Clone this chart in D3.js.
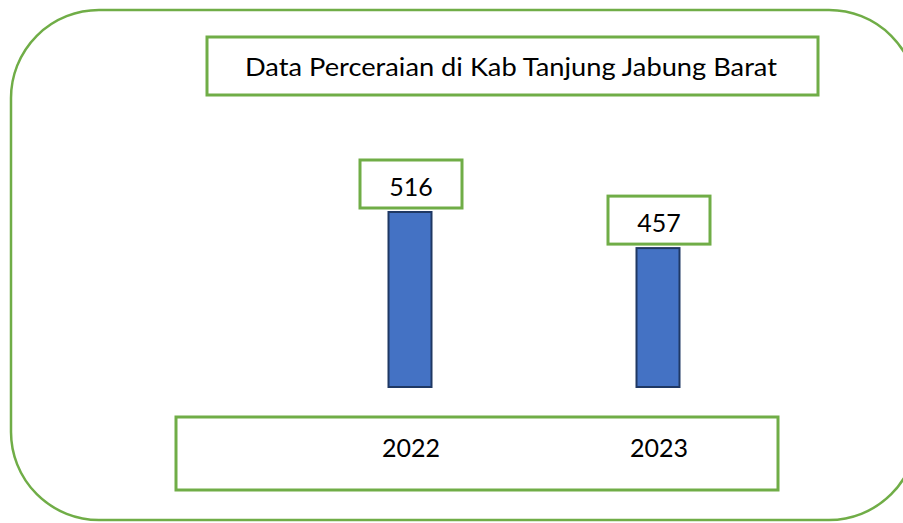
<!DOCTYPE html>
<html>
<head>
<meta charset="utf-8">
<script src="https://cdn.jsdelivr.net/npm/d3@7"></script>
<style>
  body { margin: 0; background: #fff; }
  svg { display: block; font-family: Lato, "Open Sans", sans-serif; }
  .frame { fill: none; stroke: #70AD47; }
  .bar { fill: #4472C4; stroke: #1F3864; stroke-width: 2; }
  .box { fill: #fff; stroke: #70AD47; stroke-width: 3; }
</style>
</head>
<body>
<script>
// Data
var title = "Data Perceraian di Kab Tanjung Jabung Barat";
var years = ["2022", "2023"];
var totals = [516, 457];

var dataset = years.map(function(y, i) { return { year: y, total: totals[i] }; });

var w = 903, h = 523;

var svg = d3.select("body").append("svg")
    .attr("width", w)
    .attr("height", h);

// outer rounded frame (runs off the right/bottom edge)
svg.append("rect")
  .attr("class", "frame")
  .attr("x", 11).attr("y", 10)
  .attr("width", 906).attr("height", 510)
  .attr("rx", 88).attr("ry", 88)
  .attr("stroke-width", 2.5);

// Scales
var xScale = d3.scalePoint()
    .domain(years)
    .range([410, 658]);

var yScale = d3.scaleLinear()
    .domain([230, d3.max(totals)])
    .range([387, 212]);

var barW = 43;

// title box
svg.append("rect").attr("class", "box")
  .attr("x", 207).attr("y", 37).attr("width", 611).attr("height", 58);
svg.append("text")
  .attr("x", 511).attr("y", 76)
  .attr("text-anchor", "middle")
  .attr("font-size", 25)
  .attr("textLength", 532)
  .attr("lengthAdjust", "spacingAndGlyphs")
  .text(title);

// bars
svg.selectAll(".bar")
  .data(dataset)
  .enter().append("rect")
  .attr("class", "bar")
  .attr("x", function(d) { return xScale(d.year) - barW / 2; })
  .attr("y", function(d) { return yScale(d.total); })
  .attr("width", barW)
  .attr("height", function(d) { return yScale.range()[0] - yScale(d.total); });

// value label boxes
var labels = svg.selectAll(".lbl")
  .data(dataset)
  .enter().append("g")
  .attr("class", "lbl")
  .attr("transform", function(d) {
    return "translate(" + (xScale(d.year) + 1) + "," + (yScale(d.total) - 4) + ")";
  });

labels.append("rect").attr("class", "box")
  .attr("x", -51).attr("y", -48)
  .attr("width", 102).attr("height", 48);

labels.append("text")
  .attr("y", -12)
  .attr("text-anchor", "middle")
  .attr("font-size", 25)
  .text(function(d) { return d.total; });

// category box
svg.append("rect").attr("class", "box")
  .attr("x", 176).attr("y", 417).attr("width", 602).attr("height", 73);

svg.selectAll(".yr")
  .data(years)
  .enter().append("text")
  .attr("class", "yr")
  .attr("x", function(d) { return xScale(d) + 1; })
  .attr("y", 457)
  .attr("text-anchor", "middle")
  .attr("font-size", 25)
  .text(function(d) { return d; });
</script>
</body>
</html>
